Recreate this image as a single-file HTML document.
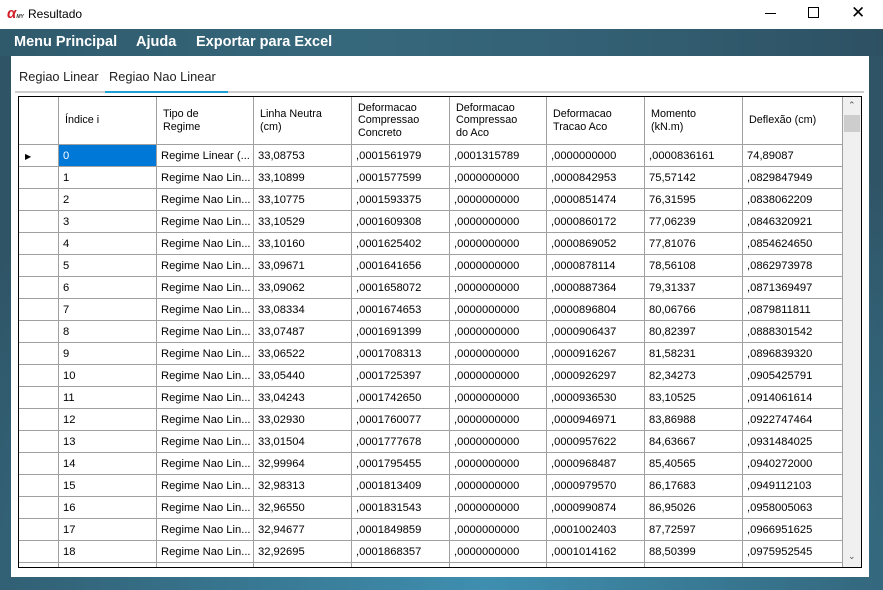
<!DOCTYPE html>
<html><head><meta charset="utf-8">
<style>
*{margin:0;padding:0;box-sizing:border-box}
body{width:883px;height:590px;overflow:hidden;position:relative;font-family:"Liberation Sans",sans-serif;background:radial-gradient(ellipse 70% 90% at 55% 100%,#3f8fb0 0%,#346a80 60%,#2f5466 100%)}
#titlebar{position:absolute;left:0;top:0;width:883px;height:29px;background:#fff}
#menubar{position:absolute;left:0;top:29px;width:883px;height:27px;background:linear-gradient(90deg,#2f5a6c,#36687c 40%,#335f73 70%,#2d5163)}
.menu{position:absolute;top:5px;color:#fff;font-weight:bold;font-size:14.5px}
#panel{position:absolute;left:11px;top:56px;width:858px;height:521px;background:#fff}
.tab{position:absolute;top:69px;font-size:12.8px;color:#222}
#grid{position:absolute;left:18px;top:96px;width:844px;height:472px;border:1px solid #000;background:#fff;overflow:hidden}
.cell{position:absolute;font-size:11.2px;color:#000;border-right:1px solid #a0a0a0;border-bottom:1px solid #a0a0a0;padding-left:4px;white-space:nowrap;overflow:hidden;line-height:23px}
.hcell{position:absolute;font-size:10.8px;color:#000;border-right:1px solid #a0a0a0;border-bottom:1px solid #a0a0a0;padding-left:6px;line-height:12.5px;display:flex;align-items:center}
#vscroll{position:absolute;left:824px;top:0;width:18px;height:470px;background:#f0f0f0}
</style></head><body>
<div id="titlebar">
<div style="position:absolute;left:7px;top:5px;color:#d0202a;font-weight:bold;font-size:15px;font-style:italic">α<span style="font-size:5px;color:#333">MY</span></div>
<div style="position:absolute;left:28px;top:7px;font-size:12px;color:#000">Resultado</div>
<div style="position:absolute;left:765px;top:13px;width:11px;height:1px;background:#000"></div>
<div style="position:absolute;left:808px;top:7px;width:11px;height:11px;border:1px solid #000"></div>
<div style="position:absolute;left:851px;top:3px;font-size:17px;color:#000">✕</div>
</div>
<div id="menubar">
<div class="menu" style="left:14px">Menu Principal</div>
<div class="menu" style="left:136px">Ajuda</div>
<div class="menu" style="left:196px">Exportar para Excel</div>
</div>
<div id="panel"></div>
<div class="tab" style="left:19px">Regiao Linear</div>
<div class="tab" style="left:109px">Regiao Nao Linear</div>
<div style="position:absolute;left:15px;top:91px;width:849px;height:2px;background:#ccc"></div>
<div style="position:absolute;left:105px;top:91px;width:123px;height:2px;background:#1ba1d4"></div>
<div id="grid">
<div id="vscroll">
<div style="position:absolute;left:5px;top:3px;font-size:9px;color:#555">⌃</div>
<div style="position:absolute;left:1px;top:18px;width:16px;height:17px;background:#cdcdcd"></div>
<div style="position:absolute;left:5px;top:454px;font-size:9px;color:#555">⌄</div>
</div>
</div>
<script>
const headers=["","Índice i","Tipo de<br>Regime","Linha Neutra<br>(cm)","Deformacao<br>Compressao<br>Concreto","Deformacao<br>Compressao<br>do Aco","Deformacao<br>Tracao Aco","Momento<br>(kN.m)","Deflexão (cm)"];
const indices=["0","1","2","3","4","5","6","7","8","9","10","11","12","13","14","15","16","17","18",""];
const regimes=["Regime Linear (...","Regime Nao Lin...","Regime Nao Lin...","Regime Nao Lin...","Regime Nao Lin...","Regime Nao Lin...","Regime Nao Lin...","Regime Nao Lin...","Regime Nao Lin...","Regime Nao Lin...","Regime Nao Lin...","Regime Nao Lin...","Regime Nao Lin...","Regime Nao Lin...","Regime Nao Lin...","Regime Nao Lin...","Regime Nao Lin...","Regime Nao Lin...","Regime Nao Lin...",""];
const linhaNeutra=["33,08753","33,10899","33,10775","33,10529","33,10160","33,09671","33,09062","33,08334","33,07487","33,06522","33,05440","33,04243","33,02930","33,01504","32,99964","32,98313","32,96550","32,94677","32,92695",""];
const defConcreto=[",0001561979",",0001577599",",0001593375",",0001609308",",0001625402",",0001641656",",0001658072",",0001674653",",0001691399",",0001708313",",0001725397",",0001742650",",0001760077",",0001777678",",0001795455",",0001813409",",0001831543",",0001849859",",0001868357",""];
const defCompAco=[",0001315789",",0000000000",",0000000000",",0000000000",",0000000000",",0000000000",",0000000000",",0000000000",",0000000000",",0000000000",",0000000000",",0000000000",",0000000000",",0000000000",",0000000000",",0000000000",",0000000000",",0000000000",",0000000000",""];
const defTracao=[",0000000000",",0000842953",",0000851474",",0000860172",",0000869052",",0000878114",",0000887364",",0000896804",",0000906437",",0000916267",",0000926297",",0000936530",",0000946971",",0000957622",",0000968487",",0000979570",",0000990874",",0001002403",",0001014162",""];
const momento=[",0000836161","75,57142","76,31595","77,06239","77,81076","78,56108","79,31337","80,06766","80,82397","81,58231","82,34273","83,10525","83,86988","84,63667","85,40565","86,17683","86,95026","87,72597","88,50399",""];
const deflexao=["74,89087",",0829847949",",0838062209",",0846320921",",0854624650",",0862973978",",0871369497",",0879811811",",0888301542",",0896839320",",0905425791",",0914061614",",0922747464",",0931484025",",0940272000",",0949112103",",0958005063",",0966951625",",0975952545",""];
const colX=[0,40,138,235,333,431,528,626,724,824];
const grid=document.getElementById('grid');
const sb=document.getElementById('vscroll');
for(let c=0;c<headers.length;c++){
  const h=document.createElement('div');
  h.className='hcell';
  
  
  h.style.left=colX[c]+'px';h.style.top='0px';
  h.style.width=(colX[c+1]-colX[c])+'px';h.style.height='48px';
  h.innerHTML=headers[c];
  grid.insertBefore(h,sb);
}
const cols=[null,indices,regimes,linhaNeutra,defConcreto,defCompAco,defTracao,momento,deflexao];
for(let r=0;r<indices.length;r++){
  for(let c=0;c<cols.length;c++){
    const d=document.createElement('div');
    d.className='cell';
    
    
    d.style.left=colX[c]+'px';d.style.top=(48+r*22)+'px';
    d.style.width=(colX[c+1]-colX[c])+'px';d.style.height='22px';
    if(c===0){d.style.background='#fff';if(r===0){d.innerHTML='<span style="font-size:8px;margin-left:2px">▶</span>';}}
    else{d.textContent=cols[c][r];}
    if(r===0&&c===1){d.style.background='#0078d7';d.style.color='#fff';}
    grid.insertBefore(d,sb);
  }
}
</script>
</body></html>
